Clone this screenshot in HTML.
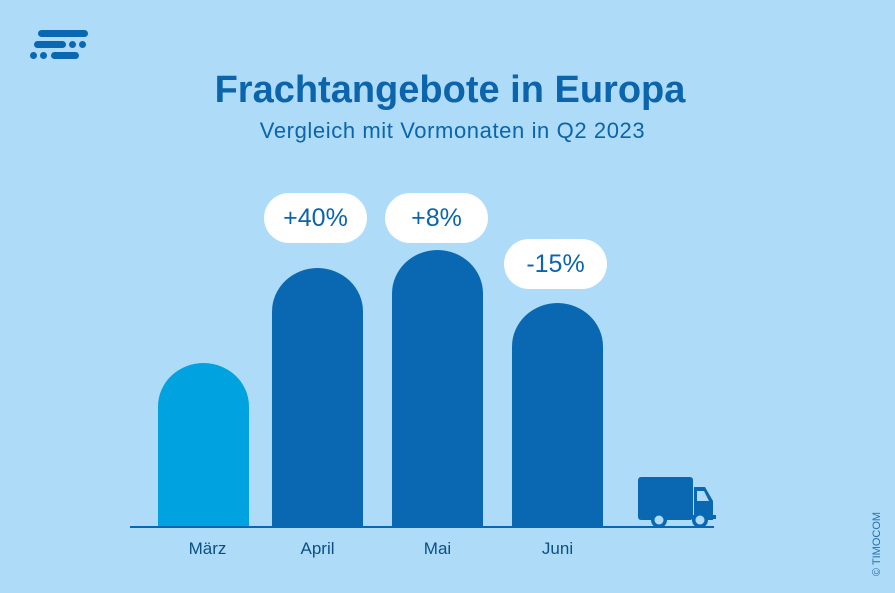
<!DOCTYPE html>
<html><head><meta charset="utf-8"><style>
body{margin:0;}
#c{position:relative;width:895px;height:593px;background:#aedcf8;overflow:hidden;font-family:"Liberation Sans",sans-serif;color:#0b64ac;}
.bar{position:absolute;width:91px;bottom:66px;background:#0a68b2;border-radius:46px 46px 0 0/44px 44px 0 0;}
.pill{position:absolute;background:#fff;border-radius:25px;height:50px;line-height:50px;text-align:center;font-size:25px;color:#0b64ac;}
.m{position:absolute;top:539px;font-size:17px;color:#0b4f86;width:91px;text-align:center;}
.d{position:absolute;background:#0a68b2;border-radius:4px;height:7px;}
</style></head><body><div id="c">
<div class="d" style="left:38px;top:30px;width:50px"></div>
<div class="d" style="left:34px;top:41px;width:32px"></div>
<div class="d" style="left:69px;top:41px;width:7px"></div>
<div class="d" style="left:79px;top:41px;width:7px"></div>
<div class="d" style="left:30px;top:52px;width:7px"></div>
<div class="d" style="left:40px;top:52px;width:7px"></div>
<div class="d" style="left:51px;top:52px;width:28px"></div>
<div style="position:absolute;left:0;width:900px;top:69px;text-align:center;font-size:38px;font-weight:bold;">Frachtangebote in Europa</div>
<div style="position:absolute;left:0;width:905px;top:118px;text-align:center;font-size:22px;letter-spacing:0.6px;">Vergleich mit Vormonaten in Q2 2023</div>
<div class="bar" style="left:158px;height:164px;background:#00a2df"></div>
<div class="bar" style="left:272px;height:259px"></div>
<div class="bar" style="left:392px;height:277px"></div>
<div class="bar" style="left:512px;height:224px"></div>
<div style="position:absolute;left:130px;top:526px;width:584px;height:2px;background:#0a68b2"></div>
<div class="pill" style="left:264px;top:193px;width:103px">+40%</div>
<div class="pill" style="left:385px;top:193px;width:103px">+8%</div>
<div class="pill" style="left:504px;top:239px;width:103px">-15%</div>
<div class="m" style="left:162px">März</div>
<div class="m" style="left:272px">April</div>
<div class="m" style="left:392px">Mai</div>
<div class="m" style="left:512px">Juni</div>
<svg style="position:absolute;left:630px;top:470px" width="90" height="60">
<rect x="8" y="7" width="55" height="43" rx="3" fill="#0a68b2"/>
<path d="M64 17 H75 L83 31 V50 H64 Z" fill="#0a68b2"/>
<path d="M67 21 H74 L79 31 H67 Z" fill="#aedcf8"/>
<rect x="60" y="45" width="26" height="4" fill="#0a68b2"/>
<circle cx="29" cy="50" r="8" fill="#0a68b2"/><circle cx="29" cy="50" r="4.5" fill="#aedcf8"/>
<circle cx="70" cy="50" r="8" fill="#0a68b2"/><circle cx="70" cy="50" r="4.5" fill="#aedcf8"/>
</svg>
<div style="position:absolute;left:837px;top:538px;width:80px;transform:rotate(-90deg);transform-origin:center;font-size:11px;color:#2a6fa8;white-space:nowrap;text-align:center;">© TIMOCOM</div>
</div></body></html>
